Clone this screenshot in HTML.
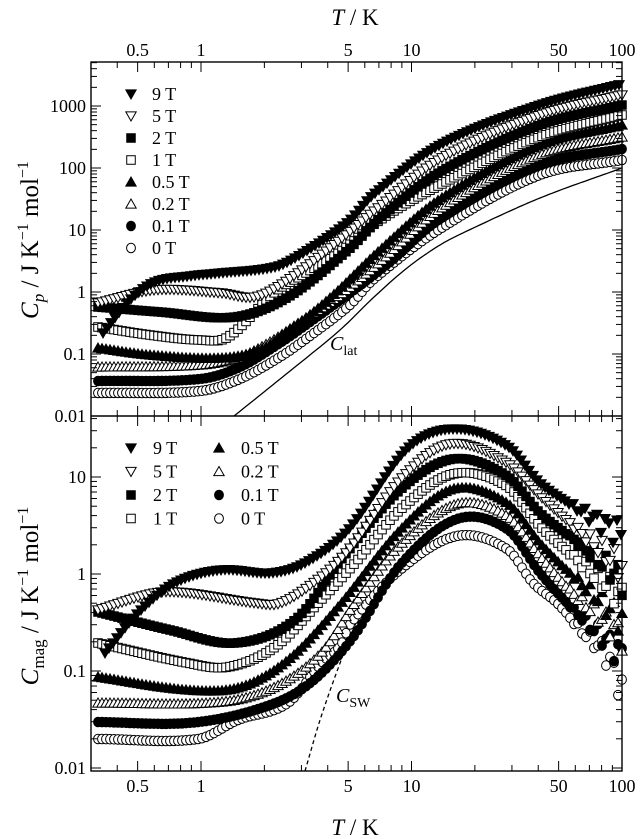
<!DOCTYPE html>
<html><head><meta charset="utf-8"><style>
html,body{margin:0;padding:0;background:#fff;}
svg{display:block;font-family:"Liberation Serif",serif;}
</style></head><body>
<svg id="s" width="640" height="839" viewBox="0 0 640 839" xmlns="http://www.w3.org/2000/svg">
<g id="data"></g>
<g id="axes" fill="none" stroke="#000" stroke-width="1.4"></g>
<g id="txt" font-size="18" fill="#000"></g>
<g font-family="Liberation Serif,serif" fill="#000">
<text x="355" y="25" font-size="23" text-anchor="middle"><tspan font-style="italic">T</tspan>  /  K</text>
<text x="355" y="835" font-size="23" text-anchor="middle"><tspan font-style="italic">T</tspan>  /  K</text>
<text transform="translate(38,240) rotate(-90)" font-size="25" text-anchor="middle"><tspan font-style="italic">C</tspan><tspan font-style="italic" font-size="17" dy="6">p</tspan><tspan dy="-6">  /  J K</tspan><tspan font-size="16" dy="-10">−1</tspan><tspan dy="10"> mol</tspan><tspan font-size="16" dy="-10">−1</tspan></text>
<text transform="translate(38,596) rotate(-90)" font-size="25" text-anchor="middle"><tspan font-style="italic">C</tspan><tspan font-size="17" dy="6">mag</tspan><tspan dy="-6">  /  J K</tspan><tspan font-size="16" dy="-10">−1</tspan><tspan dy="10"> mol</tspan><tspan font-size="16" dy="-10">−1</tspan></text>
<text x="330" y="350" font-size="20"><tspan font-style="italic">C</tspan><tspan font-size="14" dy="5">lat</tspan></text>
<text x="336" y="702" font-size="20"><tspan font-style="italic">C</tspan><tspan font-size="14" dy="5">SW</tspan></text>
</g>
</svg>
<script>
(function(){
var NS="http://www.w3.org/2000/svg";
function el(p,t,a,txt){var e=document.createElementNS(NS,t);for(var k in a)e.setAttribute(k,a[k]);if(txt!==undefined)e.textContent=txt;p.appendChild(e);return e;}
var D=document.getElementById('data'),A=document.getElementById('axes'),X=document.getElementById('txt');
var L=91,R=622,T1=62,M=416,B=771;
function xT(t){return 201+210.5*Math.log10(t);}
function yTop(v){return 416-62*(Math.log10(v)+2);}
function yBot(v){return 574-97*Math.log10(v);}
function mk(g,type,x,y,s){
 s=s||5.2;
 var filled=(type%2==0), f=filled?"#000":"#fff";
 var sh=Math.floor(type/2);
 if(sh==0)el(g,'polygon',{points:(x-s)+','+(y-s*0.8)+' '+(x+s)+','+(y-s*0.8)+' '+x+','+(y+s*0.95),fill:f,stroke:'#000','stroke-width':1});
 else if(sh==1)el(g,'rect',{x:x-s*0.82,y:y-s*0.82,width:s*1.64,height:s*1.64,fill:f,stroke:'#000','stroke-width':1});
 else if(sh==2)el(g,'polygon',{points:(x-s)+','+(y+s*0.8)+' '+(x+s)+','+(y+s*0.8)+' '+x+','+(y-s*0.95),fill:f,stroke:'#000','stroke-width':1});
 else el(g,'ellipse',{cx:x,cy:y,rx:s*0.85,ry:s*0.92,fill:f,stroke:'#000','stroke-width':1});
}
var topS={
0:[[103,333],[130,300],[155,282],[190,276],[221,273],[275,267],[300,255],[348,222],[373,195],[440,145],[540,105],[622,84]],
1:[[98,303],[155,290],[221,293],[255,297],[288,280],[341,239],[373,212],[440,159],[540,115],[622,95]],
2:[[98,307],[160,312],[235,317],[288,297],[348,250],[380,218],[440,172],[540,125],[622,105]],
3:[[98,327],[150,335],[200,340],[228,337],[275,292],[301,276],[340,252],[380,220],[440,185],[540,137],[622,115]],
4:[[98,348],[150,355],[221,358],[260,350],[290,330],[330,298],[380,250],[440,199],[540,145],[622,125]],
5:[[98,367],[200,365],[240,357],[270,342],[300,322],[340,295],[380,262],[440,209],[540,155],[622,137]],
6:[[98,381],[200,379],[240,367],[280,343],[310,322],[350,293],[390,262],[440,219],[540,165],[622,149]],
7:[[98,393],[200,391],[240,379],[280,357],[310,336],[350,305],[373,280],[440,229],[540,175],[622,160]]};
var botS={
0:[[105,653],[138,613],[175,583],[221,570],[271,573],[305,563],[348,530],[407,449],[453,429],[507,446],[540,483],[573,506],[607,526],[622,535]],
1:[[98,610],[155,593],[188,593],[255,603],[281,603],[321,577],[351,547],[400,480],[450,444],[507,463],[540,496],[573,526],[622,568]],
2:[[98,612],[170,630],[235,643],[295,620],[341,560],[400,490],[453,459],[507,476],[540,513],[573,539],[622,580]],
3:[[98,643],[188,663],[228,667],[275,647],[321,600],[355,563],[400,510],[453,474],[507,486],[540,526],[573,556],[622,598]],
4:[[98,677],[188,690],[241,687],[288,660],[338,607],[400,530],[453,489],[507,503],[540,543],[573,576],[622,620]],
5:[[98,703],[221,702],[275,687],[321,653],[355,603],[400,545],[457,504],[507,516],[540,556],[573,593],[622,635]],
6:[[98,722],[188,723],[255,710],[305,687],[351,640],[400,565],[457,519],[507,529],[540,573],[573,609],[622,655]],
7:[[98,739],[198,739],[238,720],[288,703],[321,663],[340,646],[351,623],[400,570],[457,536],[507,549],[533,583],[557,603],[580,629],[607,656],[622,690]]};
function interp(p,x){var n=p.length;
 for(var i=0;i<n-1;i++){if(x<=p[i+1][0]){
  var x0=p[i][0],x1=p[i+1][0],y0=p[i][1],y1=p[i+1][1],h=x1-x0,t=(x-x0)/h;
  var m0=i>0?(y1-p[i-1][1])/(x1-p[i-1][0]):(y1-y0)/h;
  var m1=i<n-2?(p[i+2][1]-y0)/(p[i+2][0]-x0):(y1-y0)/h;
  var t2=t*t,t3=t2*t;
  return (2*t3-3*t2+1)*y0+(t3-2*t2+t)*h*m0+(-2*t3+3*t2)*y1+(t3-t2)*h*m1;}}
 return p[n-1][1];}
var lat=[[234,416],[290,371],[340,330],[373,298],[407,268],[440,245],[467,231],[540,198],[622,168]];
var d='';for(var x=234;x<=622;x+=3){d+=(x==234?'M':'L')+x+','+interp(lat,x).toFixed(1)+' ';}
el(D,'path',{d:d,fill:'none',stroke:'#000','stroke-width':1.3});
var sw=[[305,771],[321,717],[345,650],[362,610],[380,580]];
d='';for(var x=305;x<=375;x+=2){d+=(x==305?'M':'L')+x+','+interp(sw,x).toFixed(1)+' ';}
el(D,'path',{d:d,fill:'none',stroke:'#000','stroke-width':1.3,'stroke-dasharray':'4,3'});
function drawSet(set,scatter){
 for(var t=7;t>=0;t--){var pts=set[t];var g=el(D,'g',{});
  for(var x=pts[0][0];x<=622;x+=4){var y=interp(pts,x);
   if(scatter&&x>565){y+=Math.sin(x*7.3+t*2)*((x-565)/57)*16;}
   mk(g,t,x,y);}
 }}
drawSet(topS,false);drawSet(botS,true);
el(A,'rect',{x:L,y:T1,width:R-L,height:B-T1});
el(A,'line',{x1:L,y1:M,x2:R,y2:M});
var xs=[];for(var d2=-1;d2<=1;d2++)for(var m=1;m<10;m++){var t=m*Math.pow(10,d2);if(t>=0.3&&t<=100)xs.push(t);}xs.push(100);
xs.forEach(function(t){var x=xT(t);var maj=(t==0.5||t==1||t==5||t==10||t==50||t==100);var l=maj?10:6;
 [[T1,1],[M,1],[M,-1],[B,-1]].forEach(function(p){el(A,'line',{x1:x,y1:p[0],x2:x,y2:p[0]+p[1]*l,'stroke-width':1});});});
[["0.5",0.5],["1",1],["5",5],["10",10],["50",50],["100",100]].forEach(function(p){var x=xT(p[1]);
 el(X,'text',{x:x,y:56,'text-anchor':'middle'},p[0]);el(X,'text',{x:x,y:792,'text-anchor':'middle'},p[0]);});
for(var d2=-2;d2<=3;d2++)for(var m=1;m<10;m++){var v=m*Math.pow(10,d2);var y=yTop(v);if(y<T1)continue;var l=m==1?10:6;
 el(A,'line',{x1:L,y1:y,x2:L+l,y2:y,'stroke-width':1});el(A,'line',{x1:R,y1:y,x2:R-l,y2:y,'stroke-width':1});}
[["0.01",-2],["0.1",-1],["1",0],["10",1],["100",2],["1000",3]].forEach(function(p){el(X,'text',{x:86,y:yTop(Math.pow(10,p[1]))+6,'text-anchor':'end'},p[0]);});
for(var d2=-2;d2<=1;d2++)for(var m=1;m<10;m++){var v=m*Math.pow(10,d2);var y=yBot(v);if(y<M||y>B)continue;var l=m==1?10:6;
 el(A,'line',{x1:L,y1:y,x2:L+l,y2:y,'stroke-width':1});el(A,'line',{x1:R,y1:y,x2:R-l,y2:y,'stroke-width':1});}
[["0.01",-2],["0.1",-1],["1",0],["10",1]].forEach(function(p){el(X,'text',{x:86,y:yBot(Math.pow(10,p[1]))+6,'text-anchor':'end'},p[0]);});
var labs=["9 T","5 T","2 T","1 T","0.5 T","0.2 T","0.1 T","0 T"];
var LG=el(D,'g',{});
for(var i=0;i<8;i++){var y=94+i*22;mk(LG,i,131,y,5.2);el(X,'text',{x:152,y:y+6},labs[i]);}
for(var i=0;i<8;i++){var c=Math.floor(i/4),r=i%4;var x=c?219:131,y=448+r*23.5;mk(LG,i,x,y,5.2);el(X,'text',{x:x+22,y:y+6},labs[i]);}
})();
</script>
</body></html>
